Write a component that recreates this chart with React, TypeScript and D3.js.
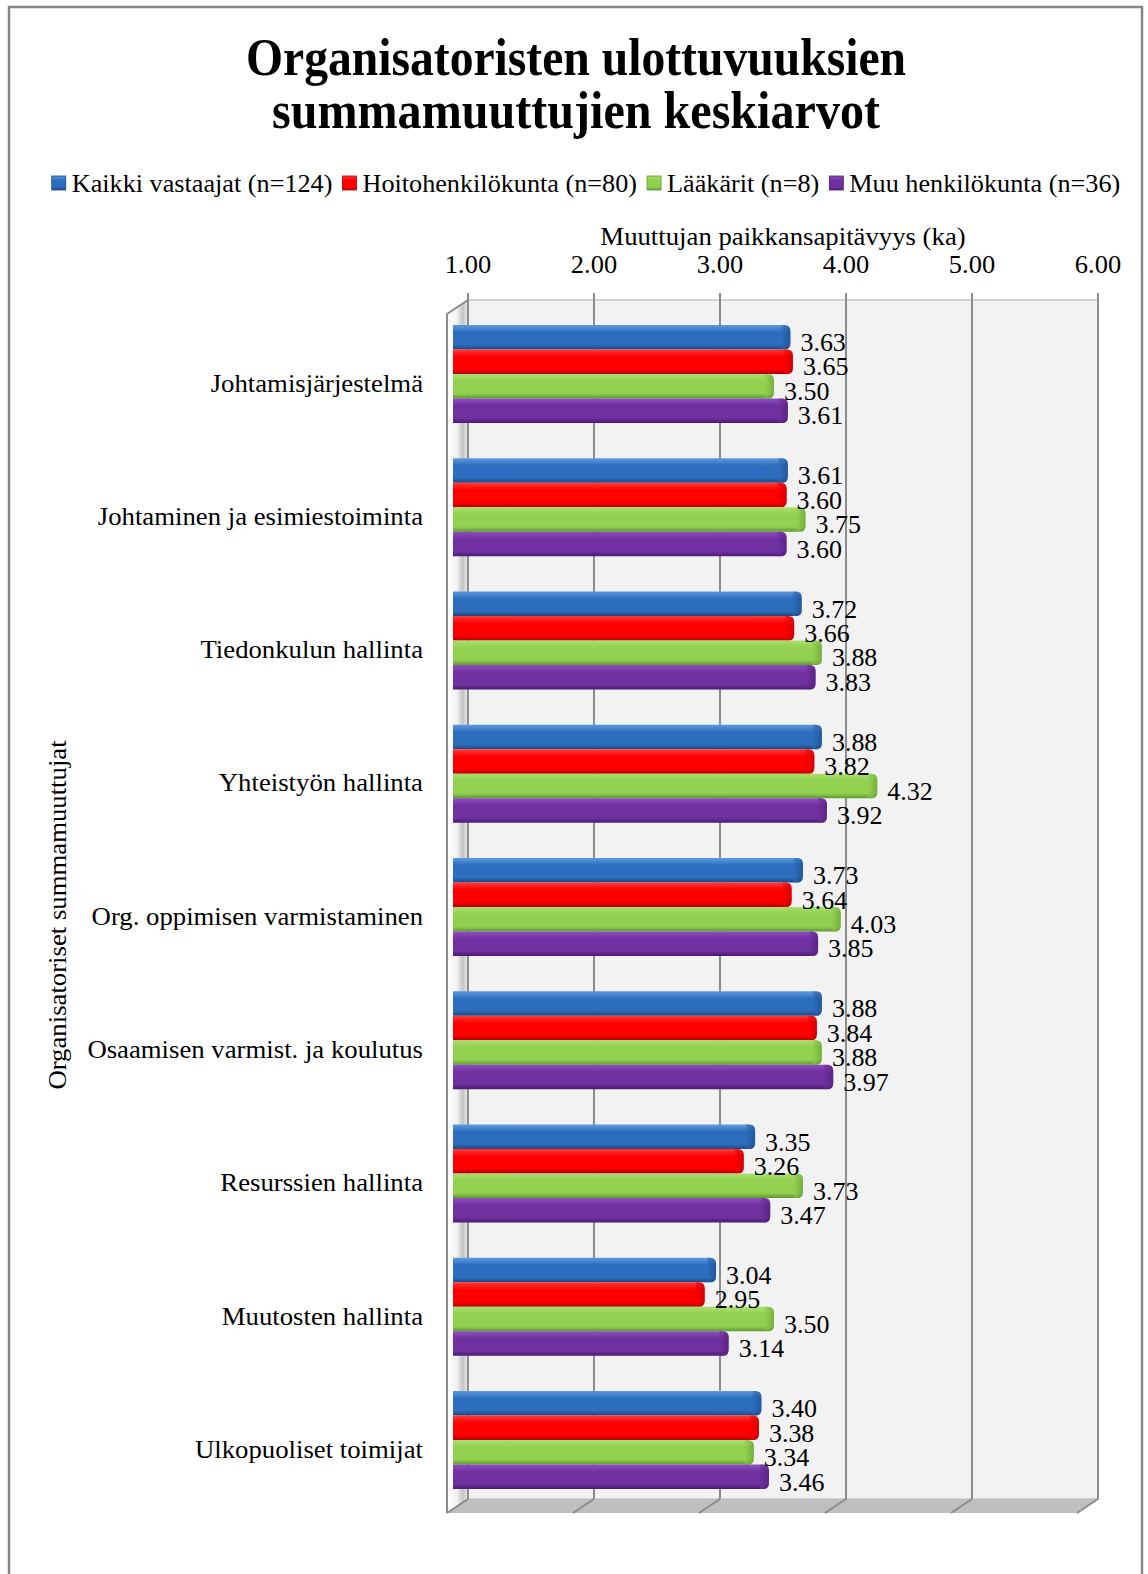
import { useEffect, useRef } from 'react'
import * as d3 from 'd3'

const categories = [
  'Johtamisjärjestelmä',
  'Johtaminen ja esimiestoiminta',
  'Tiedonkulun hallinta',
  'Yhteistyön hallinta',
  'Org. oppimisen varmistaminen',
  'Osaamisen varmist. ja koulutus',
  'Resurssien hallinta',
  'Muutosten hallinta',
  'Ulkopuoliset toimijat'
]
const seriesNames = [
  'Kaikki vastaajat (n=124)',
  'Hoitohenkilökunta (n=80)',
  'Lääkärit (n=8)',
  'Muu henkilökunta (n=36)'
]
const kaikki = [3.63, 3.61, 3.72, 3.88, 3.73, 3.88, 3.35, 3.04, 3.40]
const hoito = [3.65, 3.60, 3.66, 3.82, 3.64, 3.84, 3.26, 2.95, 3.38]
const laakarit = [3.50, 3.75, 3.88, 4.32, 4.03, 3.88, 3.73, 3.50, 3.34]
const muu = [3.61, 3.60, 3.83, 3.92, 3.85, 3.97, 3.47, 3.14, 3.46]
const tickValues = [1, 2, 3, 4, 5, 6]

const titleLines = ['Organisatoristen ulottuvuuksien', 'summamuuttujien keskiarvot']
const xTitle = 'Muuttujan paikkansapitävyys (ka)'
const yTitle = 'Organisatoriset summamuuttujat'

export default function App() {
  const svgRef = useRef<SVGSVGElement>(null)

  useEffect(() => {
    if (!svgRef.current) return
    const svg = d3.select(svgRef.current)
    svg.selectAll('*').remove()

    const font = '"Liberation Serif", "Times New Roman", serif'
    const grid = '#8c8c8c'
    // the original text is drawn a bit wider than the font's natural width
    const stretch = 1.07

    const series = [
      { name: seriesNames[0], values: kaikki, light: '#5c9ae0', base: '#2c6dbd', dark: '#1b4780' },
      { name: seriesNames[1], values: hoito, light: '#ff3a3a', base: '#ff0000', dark: '#b00000' },
      { name: seriesNames[2], values: laakarit, light: '#a9e06c', base: '#92d050', dark: '#5e9630' },
      { name: seriesNames[3], values: muu, light: '#8d4fbf', base: '#7030a0', dark: '#4a1b70' }
    ]

    // back wall and depth offset of the 3D box
    const wall = { x0: 468, x1: 1098, y0: 300, y1: 1499 }
    const dx = -21
    const dy = 14

    const xWall = d3.scaleLinear().domain([1, 6]).range([wall.x0, wall.x1])
    const xBar = d3.scaleLinear().domain([1, 6]).range([459, 1089])
    const yGroup = d3.scaleBand<string>()
      .domain(categories)
      .range([325, 1489])
      .paddingInner(0.265)
    const yInner = d3.scaleBand<number>()
      .domain(d3.range(series.length))
      .range([0, yGroup.bandwidth()])

    const defs = svg.append('defs')

    series.forEach((s, i) => {
      const g = defs.append('linearGradient')
        .attr('id', `bar${i}`)
        .attr('x1', 0).attr('y1', 0).attr('x2', 0).attr('y2', 1)
      g.append('stop').attr('offset', '0%').attr('stop-color', s.light)
      g.append('stop').attr('offset', '30%').attr('stop-color', s.base)
      g.append('stop').attr('offset', '80%').attr('stop-color', s.base)
      g.append('stop').attr('offset', '100%').attr('stop-color', s.dark)
      const c = defs.append('linearGradient')
        .attr('id', `cap${i}`)
        .attr('x1', 0).attr('y1', 0).attr('x2', 1).attr('y2', 0)
      c.append('stop').attr('offset', '0%').attr('stop-color', s.base)
      c.append('stop').attr('offset', '100%').attr('stop-color', s.dark)
    })

    const sideGrad = defs.append('linearGradient')
      .attr('id', 'sideWall')
      .attr('x1', 0).attr('y1', 0).attr('x2', 1).attr('y2', 0)
    sideGrad.append('stop').attr('offset', '0%').attr('stop-color', '#ffffff')
    sideGrad.append('stop').attr('offset', '45%').attr('stop-color', '#f4f4f4')
    sideGrad.append('stop').attr('offset', '75%').attr('stop-color', '#c4c4c4')
    sideGrad.append('stop').attr('offset', '100%').attr('stop-color', '#ececec')

    // outer frame (bottom edge runs past the picture)
    svg.append('rect')
      .attr('x', 9).attr('y', 7)
      .attr('width', 1133).attr('height', 1590)
      .attr('fill', '#fff')
      .attr('stroke', '#868686')
      .attr('stroke-width', 2.5)

    // title
    svg.append('g')
      .selectAll('text')
      .data(titleLines)
      .join('text')
      .attr('x', 576)
      .attr('y', (d, i) => 75 + i * 53)
      .attr('text-anchor', 'middle')
      .attr('font-family', font)
      .attr('font-weight', 'bold')
      .attr('font-size', 52)
      .attr('textLength', (d, i) => (i === 0 ? 660 : 608))
      .attr('lengthAdjust', 'spacingAndGlyphs')
      .text(d => d)

    // legend
    const legend = svg.append('g')
    let lx = 0
    series.forEach((s, i) => {
      const item = legend.append('g').attr('transform', `translate(${lx},0)`)
      item.append('rect')
        .attr('x', 0).attr('y', -7)
        .attr('width', 14).attr('height', 14)
        .attr('fill', `url(#bar${i})`)
        .attr('stroke', s.dark)
        .attr('stroke-width', 0.8)
      const t = item.append('text')
        .attr('transform', `translate(20,0) scale(${stretch},1)`)
        .attr('dy', '0.35em')
        .attr('font-family', font)
        .attr('font-size', 24.5)
        .text(s.name)
      const w = (t.node() as SVGTextElement).getComputedTextLength() * stretch
      lx += 20 + w + 10
    })
    const legendW = lx - 10
    legend.attr('transform', `translate(${586 - legendW / 2},183)`)

    // axis title and tick labels
    svg.append('text')
      .attr('transform', `translate(783,236) scale(${stretch},1)`)
      .attr('dy', '0.35em')
      .attr('text-anchor', 'middle')
      .attr('font-family', font)
      .attr('font-size', 25)
      .text(xTitle)

    svg.append('g')
      .selectAll('text')
      .data(tickValues)
      .join('text')
      .attr('transform', d => `translate(${xWall(d)},264) scale(1.08,1)`)
      .attr('dy', '0.35em')
      .attr('text-anchor', 'middle')
      .attr('font-family', font)
      .attr('font-size', 24.5)
      .text(d => d3.format('.2f')(d))

    // back wall
    svg.append('rect')
      .attr('x', wall.x0).attr('y', wall.y0)
      .attr('width', wall.x1 - wall.x0).attr('height', wall.y1 - wall.y0)
      .attr('fill', '#f2f2f2')
      .attr('stroke', '#c8c8c8')
      .attr('stroke-width', 1.5)

    // floor
    svg.append('path')
      .attr('d', `M${wall.x0},${wall.y1}L${wall.x1},${wall.y1}L${wall.x1 + dx},${wall.y1 + dy}L${wall.x0 + dx},${wall.y1 + dy}Z`)
      .attr('fill', '#bfbfbf')

    // left side wall
    svg.append('path')
      .attr('d', `M${wall.x0 + dx},${wall.y0 + dy}L${wall.x0},${wall.y0}L${wall.x0},${wall.y1}L${wall.x0 + dx},${wall.y1 + dy}Z`)
      .attr('fill', 'url(#sideWall)')

    // gridlines on wall + floor
    const gl = svg.append('g')
    gl.selectAll('line.v')
      .data(tickValues)
      .join('line')
      .attr('class', 'v')
      .attr('x1', d => xWall(d)).attr('x2', d => xWall(d))
      .attr('y1', wall.y0 - 7).attr('y2', wall.y1)
      .attr('stroke', grid)
      .attr('stroke-width', 2)
    gl.selectAll('line.f')
      .data(tickValues)
      .join('line')
      .attr('class', 'f')
      .attr('x1', d => xWall(d)).attr('x2', d => xWall(d) + dx)
      .attr('y1', wall.y1).attr('y2', wall.y1 + dy)
      .attr('stroke', grid)
      .attr('stroke-width', 2)
    // left wall edges
    gl.append('path')
      .attr('d', `M${wall.x0},${wall.y0}L${wall.x0 + dx},${wall.y0 + dy}L${wall.x0 + dx},${wall.y1 + dy}`)
      .attr('fill', 'none')
      .attr('stroke', grid)
      .attr('stroke-width', 2)

    // bars
    const x0 = 453
    const r = 6
    const barPath = (x1: number, y: number, h: number) =>
      `M${x0},${y}L${x1 - r},${y}Q${x1},${y} ${x1},${y + r}L${x1},${y + h - r}Q${x1},${y + h} ${x1 - r},${y + h}L${x0},${y + h}Z`

    const bars = svg.append('g')
    const labels: { x: number; y: number; v: number }[] = []
    categories.forEach((cat, ci) => {
      const gy = yGroup(cat) as number
      series.forEach((s, si) => {
        const v = s.values[ci]
        const y = gy + (yInner(si) as number)
        const h = yInner.bandwidth()
        const x1 = xBar(v)
        bars.append('path')
          .attr('d', barPath(x1, y, h))
          .attr('fill', `url(#bar${si})`)
        bars.append('path')
          .attr('d', `M${x1 - 9},${y}L${x1 - r},${y}Q${x1},${y} ${x1},${y + r}L${x1},${y + h - r}Q${x1},${y + h} ${x1 - r},${y + h}L${x1 - 9},${y + h}Z`)
          .attr('fill', `url(#cap${si})`)
          .attr('opacity', 0.55)
        labels.push({ x: x1 + 10, y: y + h / 2 + 5, v })
      })
    })

    svg.append('g')
      .selectAll('text')
      .data(labels)
      .join('text')
      .attr('transform', d => `translate(${d.x},${d.y}) scale(1.04,1)`)
      .attr('dy', '0.35em')
      .attr('font-family', font)
      .attr('font-size', 25)
      .text(d => d3.format('.2f')(d.v))

    // category labels
    svg.append('g')
      .selectAll('text')
      .data(categories)
      .join('text')
      .attr('transform', d => `translate(423,${(yGroup(d) as number) + yGroup.bandwidth() / 2 + 9}) scale(${stretch},1)`)
      .attr('dy', '0.35em')
      .attr('text-anchor', 'end')
      .attr('font-family', font)
      .attr('font-size', 25)
      .text(d => d)

    // y-axis title
    svg.append('text')
      .attr('transform', `translate(57,915) rotate(-90) scale(${stretch},1)`)
      .attr('dy', '0.35em')
      .attr('text-anchor', 'middle')
      .attr('font-family', font)
      .attr('font-size', 25)
      .text(yTitle)
  }, [])

  return (
    <div style={{ position: 'absolute', left: 0, top: 0 }}>
      <svg ref={svgRef} width={1148} height={1574} style={{ display: 'block' }} />
    </div>
  )
}
